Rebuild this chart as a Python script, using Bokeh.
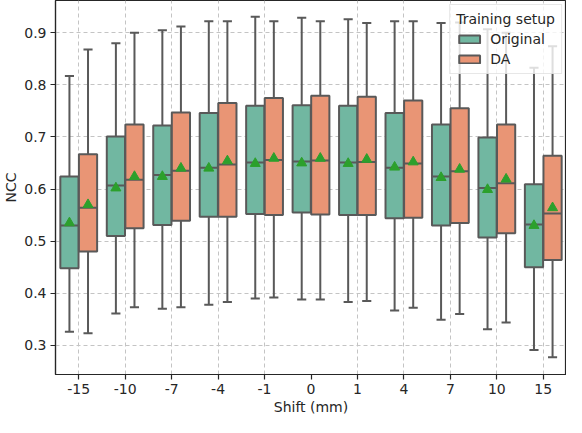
from bokeh.plotting import figure
from bokeh.models import (ColumnDataSource, Range1d, FactorRange, FixedTicker,
                          Legend, LegendItem)
from bokeh.transform import dodge
from bokeh.embed import file_html
from bokeh.resources import INLINE

shifts = ["-15", "-10", "-7", "-4", "-1", "0", "1", "4", "7", "10", "15"]

orig_low = [0.326, 0.361, 0.370, 0.378, 0.390, 0.388, 0.383, 0.367, 0.349, 0.331, 0.291]
orig_q1 = [0.448, 0.510, 0.531, 0.547, 0.552, 0.555, 0.550, 0.544, 0.530, 0.507, 0.450]
orig_med = [0.530, 0.607, 0.627, 0.641, 0.651, 0.653, 0.651, 0.641, 0.624, 0.602, 0.532]
orig_q3 = [0.624, 0.701, 0.722, 0.746, 0.760, 0.761, 0.760, 0.746, 0.724, 0.699, 0.609]
orig_high = [0.817, 0.880, 0.905, 0.922, 0.931, 0.929, 0.926, 0.922, 0.919, 0.907, 0.833]
orig_mean = [0.535, 0.602, 0.624, 0.640, 0.649, 0.650, 0.649, 0.642, 0.622, 0.599, 0.530]

da_low = [0.323, 0.373, 0.373, 0.383, 0.392, 0.388, 0.385, 0.372, 0.360, 0.344, 0.277]
da_q1 = [0.480, 0.525, 0.539, 0.547, 0.550, 0.551, 0.550, 0.545, 0.535, 0.515, 0.464]
da_med = [0.564, 0.618, 0.635, 0.647, 0.656, 0.655, 0.652, 0.649, 0.634, 0.611, 0.553]
da_q3 = [0.667, 0.724, 0.747, 0.765, 0.775, 0.779, 0.777, 0.770, 0.755, 0.724, 0.664]
da_high = [0.868, 0.900, 0.912, 0.922, 0.922, 0.922, 0.919, 0.922, 0.920, 0.900, 0.874]
da_mean = [0.570, 0.624, 0.640, 0.654, 0.659, 0.659, 0.657, 0.652, 0.638, 0.619, 0.564]

y_ticks = [0.3, 0.4, 0.5, 0.6, 0.7, 0.8, 0.9]

FONT = "DejaVu Sans"
TXT = "#262626"
EDGE = "#595959"

p = figure(width=566, height=417, x_range=FactorRange(*shifts),
           y_range=Range1d(0.244, 0.962), output_backend="svg",
           toolbar_location=None, min_border_left=0, min_border_right=0,
           min_border_top=0, min_border_bottom=0)
p.background_fill_color = "white"
p.outline_line_color = TXT
p.outline_line_width = 1.2

series = [
    ("Original", -0.2, "#71b7a1", orig_low, orig_q1, orig_med, orig_q3, orig_high, orig_mean),
    ("DA", 0.2, "#e99575", da_low, da_q1, da_med, da_q3, da_high, da_mean),
]

bw = 0.392
items = []
for name, off, col, lo, q1, med, q3, hi, mn in series:
    src = ColumnDataSource(dict(shift=shifts, lo=lo, q1=q1, med=med, q3=q3, hi=hi, mn=mn))
    xc = dodge("shift", off, range=p.x_range)
    xl = dodge("shift", off - bw / 2, range=p.x_range)
    xr = dodge("shift", off + bw / 2, range=p.x_range)
    cl = dodge("shift", off - bw / 4, range=p.x_range)
    cr = dodge("shift", off + bw / 4, range=p.x_range)
    p.segment(x0=xc, x1=xc, y0="q3", y1="hi", source=src, line_color=EDGE, line_width=2)
    p.segment(x0=xc, x1=xc, y0="q1", y1="lo", source=src, line_color=EDGE, line_width=2)
    p.segment(x0=cl, x1=cr, y0="hi", y1="hi", source=src, line_color=EDGE, line_width=2)
    p.segment(x0=cl, x1=cr, y0="lo", y1="lo", source=src, line_color=EDGE, line_width=2)
    r = p.vbar(x=xc, width=bw, top="q3", bottom="q1", source=src,
               fill_color=col, line_color=EDGE, line_width=2)
    p.segment(x0=xl, x1=xr, y0="med", y1="med", source=src, line_color=EDGE, line_width=2)
    p.scatter(x=xc, y="mn", source=src, marker="triangle", size=10,
              fill_color="#2ca02c", line_color="#2ca02c")
    items.append(LegendItem(label=name, renderers=[r]))

# grids
for g in (p.xgrid[0], p.ygrid[0]):
    g.grid_line_color = "#c4c4c4"
    g.grid_line_dash = "4 3"
    g.grid_line_width = 1

p.yaxis.ticker = FixedTicker(ticks=y_ticks)
p.yaxis.major_label_overrides = {t: f"{t:.1f}" for t in y_ticks}

for ax in (p.xaxis[0], p.yaxis[0]):
    ax.axis_line_color = TXT
    ax.axis_line_width = 1.2
    ax.major_tick_line_color = TXT
    ax.major_tick_line_width = 1.2
    ax.major_tick_out = 5
    ax.major_tick_in = 0
    ax.minor_tick_line_color = None
    ax.major_label_text_font = FONT
    ax.major_label_text_font_size = "14px"
    ax.major_label_text_color = TXT
    ax.major_label_standoff = 4
    ax.axis_label_text_font = FONT
    ax.axis_label_text_font_size = "14px"
    ax.axis_label_text_font_style = "normal"
    ax.axis_label_text_color = TXT
    ax.axis_label_standoff = 2

p.xaxis.axis_label = "Shift (mm)"
p.yaxis.axis_label = "NCC"
p.xaxis.group_text_font_size = "0px"

legend = Legend(items=items, location="top_right", title="Training setup")
legend.title_text_font = FONT
legend.title_text_font_size = "14px"
legend.title_text_font_style = "normal"
legend.title_text_color = TXT
legend.title_standoff = 4
legend.label_text_font = FONT
legend.label_text_font_size = "14px"
legend.label_text_color = TXT
legend.glyph_width = 26
legend.glyph_height = 10
legend.label_height = 16
legend.label_standoff = 8
legend.spacing = 4
legend.padding = 6
legend.margin = 4
legend.background_fill_color = "white"
legend.background_fill_alpha = 0.8
legend.border_line_color = "#d0d0d0"
legend.border_line_width = 1
p.add_layout(legend)

open("out.html", "w").write(file_html(p, INLINE))
